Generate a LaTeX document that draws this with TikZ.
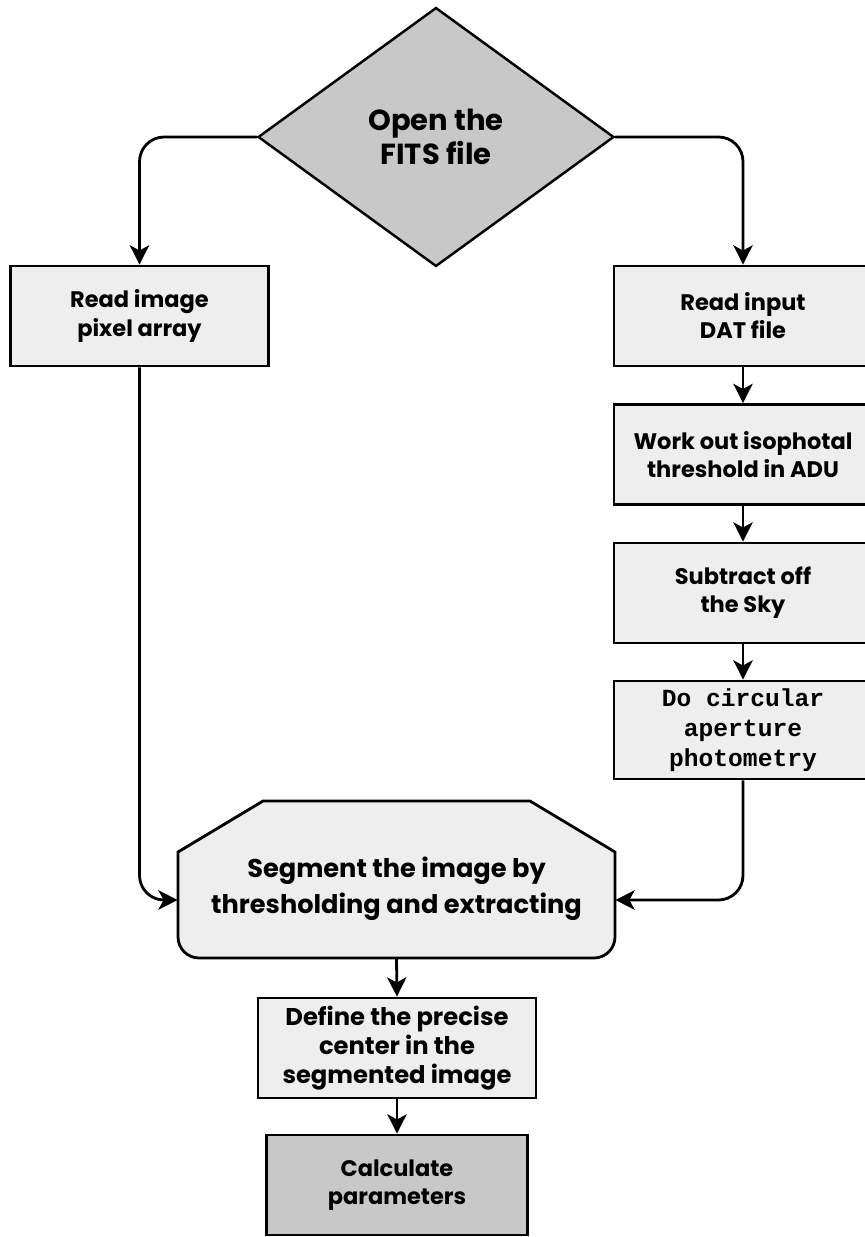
\documentclass[tikz,border=0pt]{standalone}
\usepackage{fontspec}
\setmainfont{Poppins}
\setmonofont{Liberation Mono}
\usetikzlibrary{positioning,shapes.geometric,arrows.meta}

\definecolor{boxfill}{HTML}{EEEEEE}
\definecolor{darkfill}{HTML}{C8C8C8}

\begin{document}
\begin{tikzpicture}[x=0.02cm, y=-0.02cm,
  every node/.style={align=center, inner sep=0pt},
  stepbox/.style={draw, line width=1.6pt, fill=boxfill, minimum width=5.16cm, minimum height=2cm,
    font=\bfseries\fontsize{12.8}{16}\selectfont},
  arr/.style={line width=1.6pt, -{Stealth[length=11pt, width=11pt, inset=3pt]}},
  ]
\useasboundingbox (0,0) rectangle (865,1237);

\def\xl{139.5}
\def\xr{743}
\def\xm{397}

% decision at the top
\node[diamond, draw, line width=1.4pt, fill=darkfill, aspect=1.37,
  minimum width=7.12cm, minimum height=5.18cm,
  font=\bfseries\fontsize{16.5}{19.5}\selectfont] (open) at (436, 137) {Open the\\FITS file};

% left branch
\node[stepbox] (readimg) at (\xl, 316) {Read image\\pixel array};

% right branch
\node[stepbox] (readdat) at (\xr, 316) {Read input\\DAT file};
\node[stepbox] (thresh) at (\xr, 454.5) {Work out isophotal\\threshold in ADU};
\node[stepbox] (sky) at (\xr, 593) {Subtract off\\the Sky};
\node[stepbox, minimum height=1.96cm, font=\ttfamily\bfseries\fontsize{14}{17}\selectfont]
  (phot) at (\xr, 730) {Do circular\\aperture\\photometry};

% segmentation block
\draw[line width=1.6pt, fill=boxfill, rounded corners=0pt]
  (178, 852) -- (263, 801) -- (530, 801) -- (615, 852)
  [rounded corners=12pt] -- (615, 958) -- (178, 958) [rounded corners=0pt] -- cycle;
\node[minimum width=8.74cm, minimum height=2.76cm, font=\bfseries\fontsize{14.6}{20.5}\selectfont]
  (seg) at (396.5, 889) {Segment the image by\\thresholding and extracting};

% final steps
\node[stepbox, minimum width=5.56cm, font=\bfseries\fontsize{13.8}{16.5}\selectfont]
  (define) at (\xm, 1048) {Define the precise\\center in the\\segmented image};
\node[stepbox, fill=darkfill, minimum width=5.22cm] (calc) at (\xm, 1185) {Calculate\\parameters};

\draw[arr, rounded corners=14pt] (open.west) -| (readimg.north);
\draw[arr, rounded corners=14pt] (open.east) -| (readdat.north);
\draw[arr] (readdat) -- (thresh);
\draw[arr] (thresh) -- (sky);
\draw[arr] (sky) -- (phot);
\draw[arr, rounded corners=14pt] (readimg.south) |- ([yshift=-0.22cm]seg.west);
\draw[arr, rounded corners=14pt] (phot.south) |- ([yshift=-0.22cm]seg.east);
\draw[arr] (seg.south) -- (define.north);
\draw[arr] (define) -- (calc);

\end{tikzpicture}
\end{document}
